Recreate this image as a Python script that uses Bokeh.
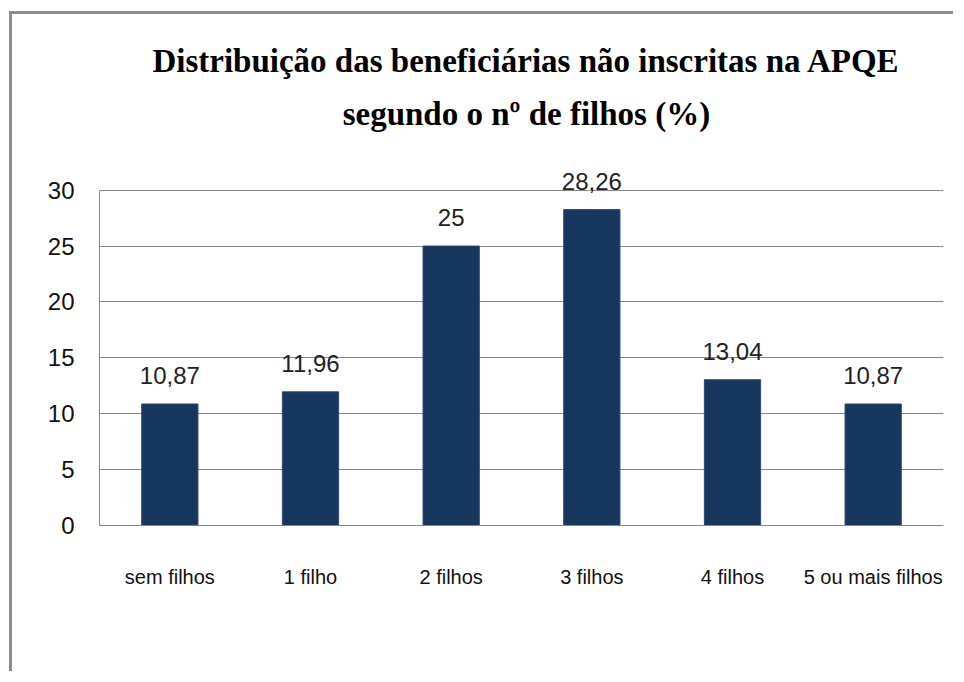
from bokeh.plotting import figure
from bokeh.models import ColumnDataSource, LabelSet, Range1d, FixedTicker
from bokeh.core.properties import value
from bokeh.embed import file_html
from bokeh.resources import INLINE

categories = ["sem filhos", "1 filho", "2 filhos", "3 filhos", "4 filhos", "5 ou mais filhos"]
values = [10.87, 11.96, 25, 28.26, 13.04, 10.87]
y_ticks = [0, 5, 10, 15, 20, 25, 30]
title_lines = ["Distribuição das beneficiárias não inscritas na APQE", "segundo o nº de filhos (%)"]

labels = [f"{v:g}".replace(".", ",") for v in values]
src = ColumnDataSource(dict(cat=categories, val=values, lab=labels))

W, H = 944, 660
p = figure(x_range=categories, y_range=Range1d(0, 45), width=W, height=H,
           output_backend="svg", toolbar_location=None,
           min_border_left=87, min_border_right=13, min_border_top=8, min_border_bottom=149)
p.styles = {"border-top": "3px solid #8c8c8c", "border-left": "3px solid #8c8c8c",
            "margin-left": "9px", "margin-top": "11px"}
p.outline_line_color = None
p.background_fill_color = "white"
p.border_fill_color = "white"

p.vbar(x="cat", top="val", width=0.4, source=src, fill_color="#17375E", line_color="#2c4a70", line_width=1)

p.add_layout(LabelSet(x="cat", y="val", text="lab", source=src, text_align="center",
                      text_baseline="bottom", y_offset=20, text_font_size=value("24px"),
                      text_font=value("Liberation Sans"), text_color="#222222"))

# two-line chart title above the 0-30 value area (x in synthetic categorical units)
p.text(x=[3.035, 3.035], y=[41.6, 36.8], text=title_lines,
       text_align="center", text_baseline="alphabetic",
       text_font=value("Liberation Serif"), text_font_style="bold",
       text_font_size=value("33px"), text_color="black")

p.yaxis.ticker = FixedTicker(ticks=y_ticks)
p.ygrid.ticker = FixedTicker(ticks=y_ticks)
p.yaxis.bounds = (0, 30)
p.xgrid.grid_line_color = None
p.ygrid.grid_line_color = "#868686"
p.ygrid.grid_line_width = 1

for ax in (p.xaxis, p.yaxis):
    ax.axis_line_color = "#868686"
    ax.major_tick_line_color = None
    ax.minor_tick_line_color = None
    ax.major_label_text_font = "Liberation Sans"
    ax.major_label_text_color = "#111111"
p.yaxis.major_label_text_font_size = "24px"
p.yaxis.major_label_standoff = 19
p.xaxis.major_label_text_font_size = "20px"
p.xaxis.major_label_standoff = 34

open("out.html", "w").write(file_html(p, INLINE))
